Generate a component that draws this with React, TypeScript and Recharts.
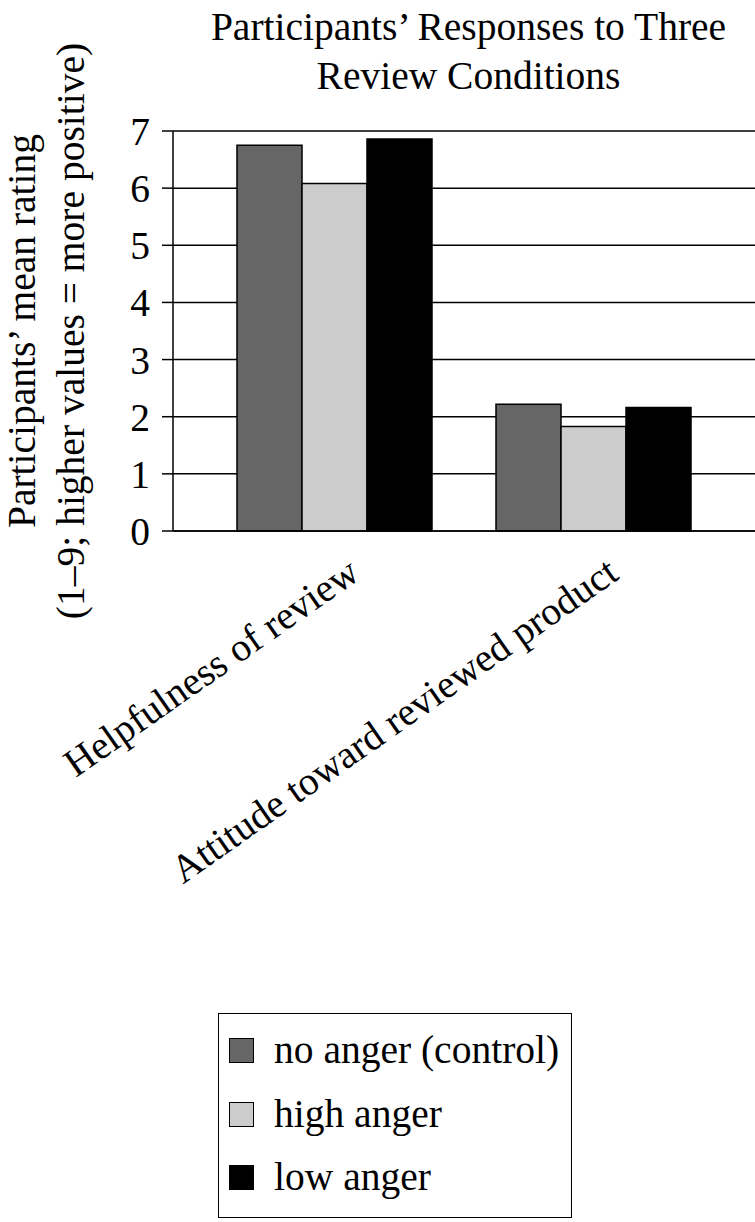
import { BarChart, Bar, XAxis, YAxis, CartesianGrid, Legend } from 'recharts'

const categories = ['Helpfulness of review', 'Attitude toward reviewed product']
const seriesNames = ['no anger (control)', 'high anger', 'low anger']
const noAnger = [6.75, 2.22]
const highAnger = [6.08, 1.83]
const lowAnger = [6.86, 2.16]
const yTicks = [0, 1, 2, 3, 4, 5, 6, 7]

const data = categories.map((name, i) => ({
  name,
  noAnger: noAnger[i],
  highAnger: highAnger[i],
  lowAnger: lowAnger[i]
}))

const FONT = '"Liberation Serif", "Times New Roman", serif'
const FS = 39.5

function CatTick({ x, y, payload }: any) {
  const ax = x + 27
  const ay = y + 47
  return (
    <text
      x={ax}
      y={ay}
      transform={`rotate(-35, ${ax}, ${ay})`}
      textAnchor="end"
      fontFamily={FONT}
      fontSize={FS}
      fill="#000"
    >
      {payload.value}
    </text>
  )
}

function YLabel({ viewBox }: any) {
  const cy = viewBox.y + viewBox.height / 2
  const x1 = viewBox.x + 35
  const x2 = viewBox.x + 84
  return (
    <g fontFamily={FONT} fontSize={FS} fill="#000">
      <text x={x1} y={cy} textAnchor="middle" transform={`rotate(-90, ${x1}, ${cy})`}>
        Participants’ mean rating
      </text>
      <text x={x2} y={cy} textAnchor="middle" transform={`rotate(-90, ${x2}, ${cy})`}>
        (1–9; higher values = more positive)
      </text>
    </g>
  )
}

function LegendBox({ payload }: any) {
  const items = [...(payload || [])].sort(
    (a: any, b: any) => seriesNames.indexOf(a.value) - seriesNames.indexOf(b.value)
  )
  return (
    <div style={{ paddingTop: 5, paddingLeft: 10 }}>
      {items.map((entry: any) => (
        <div key={entry.value} style={{ display: 'flex', alignItems: 'center', height: 63.5 }}>
          <span
            style={{
              display: 'inline-block',
              width: 25,
              height: 25,
              boxSizing: 'border-box',
              background: entry.color,
              border: '1.5px solid #000',
              marginRight: 20
            }}
          />
          <span style={{ fontFamily: FONT, fontSize: FS, color: '#000', lineHeight: 1 }}>{entry.value}</span>
        </div>
      ))}
    </div>
  )
}

export default function App() {
  return (
    <div style={{ position: 'relative', width: 755, height: 1222, background: '#fff' }}>
      <style>{'body{margin:0}'}</style>
      <div
        style={{
          position: 'absolute',
          top: 3,
          left: 182,
          width: 573,
          textAlign: 'center',
          fontFamily: FONT,
          fontSize: FS,
          lineHeight: '48.5px',
          color: '#000'
        }}
      >
        Participants’ Responses to Three
        <br />
        Review Conditions
      </div>
      <BarChart
        width={755}
        height={1222}
        data={data}
        margin={{ top: 131, right: 0, left: 0, bottom: 591 }}
        barCategoryGap={32}
        barGap={0}
      >
        <CartesianGrid vertical={false} stroke="#000" strokeWidth={1.5} />
        <XAxis
          dataKey="name"
          height={100}
          interval={0}
          padding={{ left: 32, right: 32 }}
          tickLine={false}
          tickSize={0}
          tickMargin={0}
          axisLine={{ stroke: '#000', strokeWidth: 1.5 }}
          tick={<CatTick />}
        />
        <YAxis
          domain={[0, 7]}
          ticks={yTicks}
          width={173}
          tickSize={11}
          tickMargin={12}
          axisLine={{ stroke: '#000', strokeWidth: 1.5 }}
          tickLine={{ stroke: '#000', strokeWidth: 1.5 }}
          tick={{ fontFamily: FONT, fontSize: FS, fill: '#000' }}
          label={{ content: <YLabel /> } as any}
        />
        <Legend
          layout="vertical"
          align="center"
          verticalAlign="middle"
          content={<LegendBox />}
          wrapperStyle={{
            left: 218,
            top: 1013,
            width: 354,
            height: 205,
            border: '1.5px solid #000',
            boxSizing: 'border-box',
            background: '#fff'
          }}
        />
        <Bar dataKey="noAnger" name={seriesNames[0]} fill="#666666" stroke="#000" strokeWidth={1.5} isAnimationActive={false} />
        <Bar dataKey="highAnger" name={seriesNames[1]} fill="#cccccc" stroke="#000" strokeWidth={1.5} isAnimationActive={false} />
        <Bar dataKey="lowAnger" name={seriesNames[2]} fill="#000000" stroke="#000" strokeWidth={1.5} isAnimationActive={false} />
      </BarChart>
    </div>
  )
}
